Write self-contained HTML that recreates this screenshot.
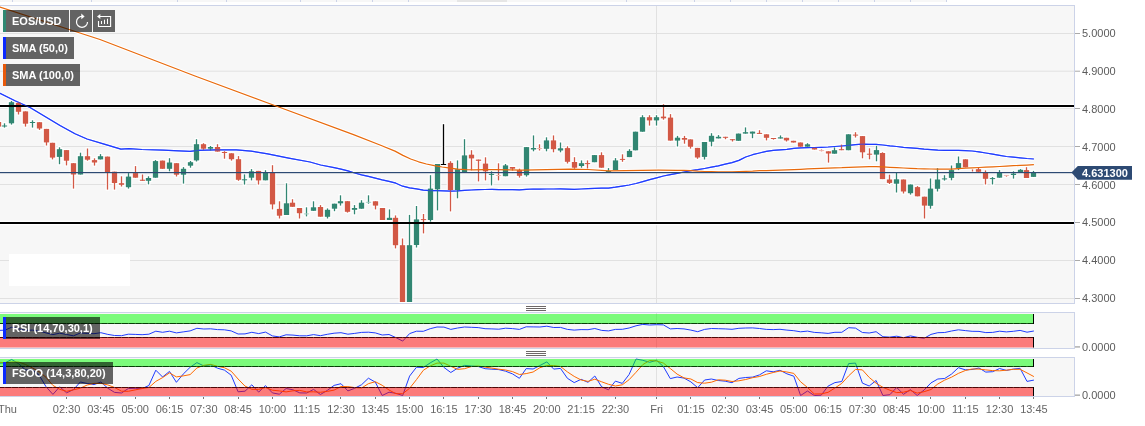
<!DOCTYPE html><html><head><meta charset="utf-8"><title>EOS/USD</title><style>html,body{margin:0;padding:0;background:#fff;overflow:hidden}body{width:1145px;height:426px;position:relative}</style></head><body><svg width="1145" height="426" viewBox="0 0 1145 426" style="position:absolute;left:0;top:0;font-family:'Liberation Sans',Arial,sans-serif">
<defs><clipPath id="cm"><rect x="0" y="6" width="1074" height="297"/></clipPath><clipPath id="cr"><rect x="0" y="313" width="1074" height="35"/></clipPath><clipPath id="cf"><rect x="0" y="358" width="1074" height="38"/></clipPath></defs>
<rect x="0" y="0" width="947" height="2" fill="#f7f7f7"/>
<rect x="12" y="0" width="1" height="2" fill="#ccd3e8"/>
<rect x="91" y="0" width="1" height="2" fill="#ccd3e8"/>
<rect x="177" y="0" width="1" height="2" fill="#ccd3e8"/>
<rect x="226" y="0" width="1" height="2" fill="#ccd3e8"/>
<rect x="300" y="0" width="1" height="2" fill="#ccd3e8"/>
<rect x="336" y="0" width="1" height="2" fill="#ccd3e8"/>
<rect x="372" y="0" width="1" height="2" fill="#ccd3e8"/>
<rect x="408" y="0" width="1" height="2" fill="#ccd3e8"/>
<rect x="626" y="0" width="1" height="2" fill="#ccd3e8"/>
<rect x="694" y="0" width="1" height="2" fill="#ccd3e8"/>
<rect x="730" y="0" width="1" height="2" fill="#ccd3e8"/>
<rect x="766" y="0" width="1" height="2" fill="#ccd3e8"/>
<rect x="802" y="0" width="1" height="2" fill="#ccd3e8"/>
<rect x="838" y="0" width="1" height="2" fill="#ccd3e8"/>
<rect x="874" y="0" width="1" height="2" fill="#ccd3e8"/>
<rect x="910" y="0" width="1" height="2" fill="#ccd3e8"/>
<rect x="946" y="0" width="1" height="2" fill="#ccd3e8"/>
<rect x="457" y="0" width="50" height="2" fill="#e6e6e6"/>
<rect x="0" y="6" width="1074" height="297" fill="#f7f7f7"/>
<rect x="0" y="33" width="1074" height="1" fill="#e1e1e1"/>
<rect x="0" y="70.7" width="1074" height="1" fill="#e1e1e1"/>
<rect x="0" y="108" width="1074" height="1" fill="#e1e1e1"/>
<rect x="0" y="146" width="1074" height="1" fill="#e1e1e1"/>
<rect x="0" y="184" width="1074" height="1" fill="#e1e1e1"/>
<rect x="0" y="222" width="1074" height="1" fill="#e1e1e1"/>
<rect x="0" y="260" width="1074" height="1" fill="#e1e1e1"/>
<rect x="0" y="298" width="1074" height="1" fill="#e1e1e1"/>
<rect x="656" y="6" width="1" height="297" fill="#e1e1e1"/>
<rect x="0" y="5" width="1075" height="1" fill="#ccd3e8"/>
<rect x="0" y="303" width="1075" height="1" fill="#ccd3e8"/>
<rect x="1074" y="5" width="1" height="299" fill="#ccd3e8"/>
<rect x="9" y="254" width="121" height="32" fill="#fff"/>
<g clip-path="url(#cm)">
<line x1="-3" y1="106.0" x2="1073.6" y2="106.0" stroke="#fff" stroke-width="4.6" stroke-linecap="round"/>
<line x1="-3" y1="222.95" x2="1073.6" y2="222.95" stroke="#fff" stroke-width="4.6" stroke-linecap="round"/>
<polyline points="-3.0,91.8 0.0,93.3 15.0,100.8 30.0,107.5 45.0,116.5 60.0,125.5 75.0,133.8 87.0,139.0 105.0,144.3 120.9,149.1 129.0,148.6 142.0,149.5 163.0,150.1 190.0,151.4 198.5,150.3 215.3,149.8 236.3,149.8 251.0,151.1 267.7,153.9 288.7,158.1 310.0,162.0 320.6,165.0 334.1,167.7 341.0,169.2 347.9,170.9 354.7,173.0 361.6,174.8 368.4,176.4 375.3,178.1 382.2,179.9 389.0,181.4 395.9,183.2 402.7,186.2 409.6,187.9 416.5,188.8 423.3,190.1 430.2,190.7 437.0,190.7 443.9,190.9 450.8,191.2 457.6,190.9 464.5,190.4 471.3,190.0 478.2,189.7 485.1,189.5 491.9,189.4 498.8,189.7 505.6,189.6 512.5,189.7 519.4,189.8 526.2,189.3 533.1,189.0 539.9,189.1 546.8,189.0 553.7,189.0 560.5,188.9 567.4,189.1 574.2,189.3 581.1,189.0 588.0,188.7 594.8,188.3 601.7,188.1 608.5,188.1 615.4,187.2 622.3,186.1 629.1,185.0 636.0,183.5 642.8,181.6 649.7,179.7 656.6,177.9 663.4,176.0 670.3,174.6 677.1,173.3 684.0,172.0 690.9,170.7 697.7,169.7 704.6,168.5 711.4,167.2 718.3,165.8 725.2,164.2 732.0,162.6 738.9,160.4 745.7,157.0 752.6,154.7 759.5,153.0 766.3,151.3 773.2,150.4 780.0,149.8 786.9,149.3 793.8,148.4 800.6,147.9 807.5,147.7 814.3,147.5 821.2,147.3 828.1,147.0 834.9,146.5 841.8,146.0 848.6,145.4 855.5,144.7 862.4,144.2 869.2,144.4 876.1,144.4 882.9,145.0 889.8,145.9 896.7,146.5 903.5,147.3 910.4,147.8 917.2,148.4 924.1,149.2 931.0,149.7 937.8,150.2 944.7,150.4 951.5,150.4 958.4,150.4 965.3,150.6 972.1,151.0 979.0,151.8 985.8,153.0 992.7,154.2 999.6,155.3 1006.4,156.5 1013.3,157.1 1020.1,157.8 1027.0,158.5 1033.9,159.0" fill="none" stroke="#fff" stroke-width="3.4" stroke-linejoin="round"/>
<polyline points="-3.0,6.0 0.0,7.0 100.0,39.5 195.0,76.0 276.0,106.0 353.5,134.6 380.0,145.0 395.0,151.1 402.9,155.4 410.7,159.0 418.6,161.8 426.4,164.0 434.3,165.6 442.2,167.0 450.0,168.2 457.9,169.1 465.8,169.7 473.6,169.8 485.0,169.6 494.5,169.6 523.0,170.2 570.0,169.2 588.0,169.5 609.0,170.9 658.6,170.2 677.1,170.3 684.0,170.4 690.9,170.7 697.7,171.2 704.6,171.5 711.4,171.6 718.3,171.8 725.2,171.9 732.0,171.9 738.9,171.6 745.7,171.4 752.6,171.2 759.5,170.7 766.3,170.6 773.2,170.4 780.0,170.1 786.9,169.9 793.8,169.6 800.6,169.3 807.5,168.9 814.3,168.6 821.2,168.3 828.1,168.1 834.9,167.8 841.8,167.7 848.6,167.3 855.5,167.1 862.4,166.8 869.2,166.7 876.1,166.6 882.9,166.9 889.8,167.3 896.7,167.6 903.5,168.0 910.4,168.3 917.2,168.7 924.1,168.9 931.0,169.0 937.8,169.1 944.7,169.1 951.5,169.1 958.4,168.7 965.3,168.2 972.1,167.9 979.0,167.5 985.8,167.2 992.7,166.8 999.6,166.5 1006.4,166.1 1013.3,165.7 1020.1,165.4 1027.0,165.1 1033.9,164.7" fill="none" stroke="#fff" stroke-width="3.4" stroke-linejoin="round"/>
<path fill="#fff" d="M-3.35 120.8h3.70v7.0h-3.70zM-5.35 120.8h7.70v7.0h-7.70zM2.65 122.1h3.70v6.7h-3.70zM0.65 124.3h7.70v3.4h-7.70zM9.65 99.8h3.70v26.0h-3.70zM7.65 101.0h7.70v23.5h-7.70zM16.65 100.8h3.70v14.9h-3.70zM14.65 101.7h7.70v11.3h-7.70zM23.65 110.2h3.70v17.6h-3.70zM21.65 110.2h7.70v14.7h-7.70zM30.65 119.1h3.70v9.7h-3.70zM28.65 120.8h7.70v3.4h-7.70zM37.65 121.0h3.70v10.1h-3.70zM35.65 121.0h7.70v8.7h-7.70zM44.65 127.7h3.70v19.0h-3.70zM42.65 127.7h7.70v15.9h-7.70zM50.65 141.6h3.70v19.0h-3.70zM48.65 141.6h7.70v17.2h-7.70zM57.65 146.1h3.70v19.3h-3.70zM55.65 148.0h7.70v10.1h-7.70zM64.65 148.9h3.70v17.7h-3.70zM62.65 148.9h7.70v13.0h-7.70zM71.65 162.0h3.70v27.8h-3.70zM69.65 162.0h7.70v13.7h-7.70zM78.65 151.5h3.70v24.2h-3.70zM76.65 155.0h7.70v20.7h-7.70zM85.65 147.3h3.70v14.6h-3.70zM83.65 155.0h7.70v5.9h-7.70zM92.65 157.1h3.70v9.7h-3.70zM90.65 158.9h7.70v4.8h-7.70zM98.65 152.9h3.70v7.7h-3.70zM96.65 155.0h7.70v5.6h-7.70zM105.65 155.4h3.70v35.4h-3.70zM103.65 155.4h7.70v17.9h-7.70zM112.65 170.5h3.70v20.3h-3.70zM110.65 170.5h7.70v13.7h-7.70zM119.65 175.1h3.70v12.6h-3.70zM117.65 182.0h7.70v4.0h-7.70zM126.65 171.9h3.70v17.9h-3.70zM124.65 175.4h7.70v13.0h-7.70zM133.65 164.9h3.70v14.0h-3.70zM131.65 171.9h7.70v7.0h-7.70zM140.65 173.3h3.70v8.7h-3.70zM138.65 178.5h7.70v3.5h-7.70zM146.65 175.1h3.70v10.5h-3.70zM144.65 176.8h7.70v5.2h-7.70zM153.65 158.9h3.70v20.0h-3.70zM151.65 159.9h7.70v19.0h-7.70zM160.65 159.4h3.70v10.6h-3.70zM158.65 159.4h7.70v10.6h-7.70zM167.65 157.0h3.70v15.5h-3.70zM165.65 161.3h7.70v8.7h-7.70zM174.65 162.0h3.70v15.7h-3.70zM172.65 162.0h7.70v13.9h-7.70zM181.65 165.9h3.70v18.9h-3.70zM179.65 167.6h7.70v8.3h-7.70zM188.65 159.8h3.70v9.1h-3.70zM186.65 161.0h7.70v5.9h-7.70zM194.65 138.0h3.70v24.7h-3.70zM192.65 143.0h7.70v18.6h-7.70zM201.65 142.0h3.70v9.0h-3.70zM199.65 143.0h7.70v6.9h-7.70zM208.65 144.8h3.70v6.9h-3.70zM206.65 145.8h7.70v4.1h-7.70zM215.65 143.0h3.70v9.8h-3.70zM213.65 145.8h7.70v7.0h-7.70zM222.65 150.0h3.70v9.9h-3.70zM220.65 150.8h7.70v3.4h-7.70zM229.65 152.1h3.70v9.7h-3.70zM227.65 152.1h7.70v8.3h-7.70zM236.65 154.9h3.70v27.1h-3.70zM234.65 158.0h7.70v23.0h-7.70zM242.65 173.2h3.70v12.6h-3.70zM240.65 178.1h7.70v3.4h-7.70zM249.65 167.9h3.70v13.7h-3.70zM247.65 170.1h7.70v8.8h-7.70zM256.65 169.7h3.70v16.1h-3.70zM254.65 169.7h7.70v11.9h-7.70zM263.65 169.0h3.70v12.5h-3.70zM261.65 171.1h7.70v10.4h-7.70zM270.65 164.0h3.70v46.6h-3.70zM268.65 171.3h7.70v34.3h-7.70zM277.65 200.1h3.70v19.6h-3.70zM275.65 207.7h7.70v9.2h-7.70zM284.65 182.1h3.70v34.1h-3.70zM282.65 202.1h7.70v14.1h-7.70zM290.65 198.0h3.70v10.0h-3.70zM288.65 201.5h7.70v6.5h-7.70zM297.65 206.8h3.70v12.9h-3.70zM295.65 206.8h7.70v7.6h-7.70zM304.65 206.1h3.70v11.5h-3.70zM302.65 212.2h7.70v3.4h-7.70zM311.65 200.1h3.70v11.9h-3.70zM309.65 206.1h7.70v5.9h-7.70zM318.65 203.9h3.70v14.0h-3.70zM316.65 205.8h7.70v12.1h-7.70zM325.65 207.2h3.70v12.5h-3.70zM323.65 208.6h7.70v9.4h-7.70zM332.65 202.5h3.70v9.9h-3.70zM330.65 202.5h7.70v7.4h-7.70zM338.65 194.1h3.70v12.7h-3.70zM336.65 200.0h7.70v4.5h-7.70zM345.65 200.0h3.70v13.8h-3.70zM343.65 200.0h7.70v13.0h-7.70zM352.65 203.9h3.70v11.6h-3.70zM350.65 206.8h7.70v4.2h-7.70zM359.65 199.0h3.70v10.9h-3.70zM357.65 201.5h7.70v8.4h-7.70zM366.65 194.1h3.70v10.8h-3.70zM364.65 200.6h7.70v3.4h-7.70zM373.65 200.1h3.70v10.5h-3.70zM371.65 200.1h7.70v6.7h-7.70zM380.65 206.8h3.70v14.4h-3.70zM378.65 206.8h7.70v14.4h-7.70zM387.65 208.2h3.70v13.0h-3.70zM385.65 216.6h7.70v4.6h-7.70zM393.65 214.2h3.70v35.4h-3.70zM391.65 216.6h7.70v29.8h-7.70zM400.65 237.3h3.70v65.9h-3.70zM398.65 244.0h7.70v59.2h-7.70zM407.65 213.7h3.70v89.5h-3.70zM405.65 244.0h7.70v59.2h-7.70zM414.65 204.8h3.70v43.9h-3.70zM412.65 218.2h7.70v28.0h-7.70zM421.65 212.8h3.70v21.8h-3.70zM419.65 217.9h7.70v3.4h-7.70zM428.65 174.0h3.70v48.8h-3.70zM426.65 187.4h7.70v33.8h-7.70zM435.65 162.8h3.70v48.8h-3.70zM433.65 162.8h7.70v27.7h-7.70zM441.65 123.0h3.70v43.2h-3.70zM439.65 162.8h7.70v3.4h-7.70zM448.65 160.0h3.70v52.6h-3.70zM446.65 161.7h7.70v29.5h-7.70zM455.65 159.2h3.70v40.3h-3.70zM453.65 168.0h7.70v23.2h-7.70zM462.65 138.0h3.70v35.2h-3.70zM460.65 154.2h7.70v19.0h-7.70zM469.65 149.0h3.70v22.6h-3.70zM467.65 153.5h7.70v6.1h-7.70zM476.65 158.4h3.70v24.2h-3.70zM474.65 158.4h7.70v3.6h-7.70zM483.65 156.1h3.70v25.5h-3.70zM481.65 162.4h7.70v10.1h-7.70zM489.65 170.1h3.70v16.5h-3.70zM487.65 172.7h7.70v3.4h-7.70zM496.65 162.1h3.70v19.5h-3.70zM494.65 173.8h7.70v3.4h-7.70zM503.65 162.8h3.70v14.6h-3.70zM501.65 164.2h7.70v13.2h-7.70zM510.65 165.8h3.70v6.0h-3.70zM508.65 165.8h7.70v4.1h-7.70zM517.65 167.5h3.70v11.3h-3.70zM515.65 168.9h7.70v8.1h-7.70zM524.65 145.9h3.70v31.9h-3.70zM522.65 145.9h7.70v30.5h-7.70zM531.65 134.2h3.70v18.3h-3.70zM529.65 146.8h7.70v3.9h-7.70zM537.65 143.1h3.70v8.6h-3.70zM535.65 146.8h7.70v3.4h-7.70zM544.65 136.1h3.70v16.4h-3.70zM542.65 139.2h7.70v10.8h-7.70zM551.65 134.2h3.70v19.3h-3.70zM549.65 139.2h7.70v11.2h-7.70zM558.65 141.3h3.70v12.2h-3.70zM556.65 147.1h7.70v4.6h-7.70zM565.65 145.0h3.70v19.7h-3.70zM563.65 146.9h7.70v16.1h-7.70zM572.65 156.0h3.70v14.0h-3.70zM570.65 160.8h7.70v8.1h-7.70zM579.65 159.2h3.70v9.7h-3.70zM577.65 162.0h7.70v5.2h-7.70zM585.65 159.2h3.70v10.5h-3.70zM583.65 161.9h7.70v3.4h-7.70zM592.65 153.9h3.70v9.5h-3.70zM590.65 153.9h7.70v9.5h-7.70zM599.65 151.1h3.70v17.8h-3.70zM597.65 153.9h7.70v15.0h-7.70zM606.65 166.9h3.70v6.2h-3.70zM604.65 169.8h7.70v3.4h-7.70zM613.65 156.9h3.70v14.3h-3.70zM611.65 159.2h7.70v12.0h-7.70zM620.65 153.1h3.70v9.9h-3.70zM618.65 157.7h7.70v3.4h-7.70zM627.65 148.0h3.70v10.3h-3.70zM625.65 149.7h7.70v8.6h-7.70zM633.65 130.5h3.70v21.0h-3.70zM631.65 130.5h7.70v21.0h-7.70zM640.65 114.0h3.70v18.9h-3.70zM638.65 116.0h7.70v16.9h-7.70zM647.65 114.0h3.70v12.8h-3.70zM645.65 116.0h7.70v5.6h-7.70zM654.65 114.0h3.70v12.8h-3.70zM652.65 116.0h7.70v5.6h-7.70zM661.65 103.0h3.70v17.9h-3.70zM659.65 115.4h7.70v4.1h-7.70zM668.65 112.9h3.70v28.9h-3.70zM666.65 116.4h7.70v25.4h-7.70zM675.65 134.7h3.70v13.0h-3.70zM673.65 136.5h7.70v5.3h-7.70zM682.65 134.7h3.70v10.2h-3.70zM680.65 136.8h7.70v4.1h-7.70zM688.65 138.2h3.70v11.6h-3.70zM686.65 138.2h7.70v9.8h-7.70zM695.65 146.7h3.70v13.3h-3.70zM693.65 146.7h7.70v12.0h-7.70zM702.65 140.8h3.70v19.9h-3.70zM700.65 140.8h7.70v17.3h-7.70zM709.65 132.0h3.70v15.6h-3.70zM707.65 134.6h7.70v8.3h-7.70zM716.65 133.9h3.70v5.7h-3.70zM714.65 135.6h7.70v4.0h-7.70zM723.65 135.6h3.70v4.8h-3.70zM721.65 135.6h7.70v3.4h-7.70zM730.65 138.0h3.70v4.7h-3.70zM728.65 138.0h7.70v3.4h-7.70zM736.65 132.4h3.70v9.6h-3.70zM734.65 132.4h7.70v9.6h-7.70zM743.65 126.2h3.70v8.6h-3.70zM741.65 131.0h7.70v3.8h-7.70zM750.65 130.4h3.70v9.0h-3.70zM748.65 130.4h7.70v4.4h-7.70zM757.65 129.0h3.70v6.1h-3.70zM755.65 131.7h7.70v3.4h-7.70zM764.65 133.1h3.70v8.5h-3.70zM762.65 133.1h7.70v5.9h-7.70zM771.65 136.8h3.70v4.0h-3.70zM769.65 136.8h7.70v3.4h-7.70zM778.65 134.2h3.70v5.5h-3.70zM776.65 136.1h7.70v3.6h-7.70zM784.65 136.6h3.70v6.1h-3.70zM782.65 136.6h7.70v5.0h-7.70zM791.65 139.6h3.70v4.1h-3.70zM789.65 139.6h7.70v4.1h-7.70zM798.65 141.3h3.70v6.6h-3.70zM796.65 141.3h7.70v6.6h-7.70zM805.65 142.0h3.70v5.9h-3.70zM803.65 143.1h7.70v4.8h-7.70zM812.65 146.5h3.70v4.2h-3.70zM810.65 146.5h7.70v4.2h-7.70zM819.65 148.3h3.70v4.2h-3.70zM817.65 148.9h7.70v3.4h-7.70zM826.65 150.1h3.70v13.7h-3.70zM824.65 150.1h7.70v4.6h-7.70zM832.65 146.2h3.70v8.7h-3.70zM830.65 149.0h7.70v5.9h-7.70zM839.65 143.4h3.70v8.0h-3.70zM837.65 148.0h7.70v3.4h-7.70zM846.65 133.1h3.70v18.3h-3.70zM844.65 133.1h7.70v18.3h-7.70zM853.65 131.0h3.70v7.7h-3.70zM851.65 133.4h7.70v3.4h-7.70zM860.65 134.9h3.70v24.6h-3.70zM858.65 134.9h7.70v18.6h-7.70zM867.65 147.1h3.70v13.4h-3.70zM865.65 152.5h7.70v3.4h-7.70zM874.65 144.6h3.70v17.9h-3.70zM872.65 148.9h7.70v6.9h-7.70zM880.65 151.1h3.70v29.2h-3.70zM878.65 151.8h7.70v28.5h-7.70zM887.65 173.5h3.70v11.7h-3.70zM885.65 178.3h7.70v5.8h-7.70zM894.65 171.6h3.70v22.1h-3.70zM892.65 178.1h7.70v6.8h-7.70zM901.65 178.3h3.70v16.4h-3.70zM899.65 178.3h7.70v14.4h-7.70zM908.65 183.3h3.70v12.5h-3.70zM906.65 183.3h7.70v11.1h-7.70zM915.65 184.9h3.70v12.6h-3.70zM913.65 185.9h7.70v11.6h-7.70zM922.65 195.5h3.70v24.2h-3.70zM920.65 195.5h7.70v11.3h-7.70zM928.65 177.3h3.70v32.6h-3.70zM926.65 187.4h7.70v19.6h-7.70zM935.65 167.0h3.70v25.7h-3.70zM933.65 178.3h7.70v11.7h-7.70zM942.65 174.0h3.70v7.8h-3.70zM940.65 177.2h7.70v3.4h-7.70zM949.65 164.3h3.70v17.2h-3.70zM947.65 168.9h7.70v10.2h-7.70zM956.65 155.3h3.70v16.0h-3.70zM954.65 161.9h7.70v7.6h-7.70zM963.65 158.1h3.70v10.4h-3.70zM961.65 158.1h7.70v10.4h-7.70zM970.65 168.2h3.70v4.5h-3.70zM976.65 166.5h3.70v6.5h-3.70zM974.65 168.0h7.70v5.0h-7.70zM983.65 169.2h3.70v16.5h-3.70zM981.65 171.5h7.70v8.5h-7.70zM990.65 175.9h3.70v9.8h-3.70zM988.65 176.9h7.70v3.4h-7.70zM997.65 168.9h3.70v10.0h-3.70zM995.65 171.5h7.70v7.4h-7.70zM1004.65 173.8h3.70v4.0h-3.70zM1002.65 173.7h7.70v3.4h-7.70zM1011.65 170.1h3.70v9.7h-3.70zM1009.65 172.4h7.70v3.8h-7.70zM1018.65 167.9h3.70v5.5h-3.70zM1016.65 168.6h7.70v4.8h-7.70zM1024.65 166.0h3.70v13.2h-3.70zM1022.65 168.9h7.70v10.3h-7.70zM1031.65 169.7h3.70v8.4h-3.70zM1029.65 171.5h7.70v6.6h-7.70z"/>
<polyline points="-3.0,91.8 0.0,93.3 15.0,100.8 30.0,107.5 45.0,116.5 60.0,125.5 75.0,133.8 87.0,139.0 105.0,144.3 120.9,149.1 129.0,148.6 142.0,149.5 163.0,150.1 190.0,151.4 198.5,150.3 215.3,149.8 236.3,149.8 251.0,151.1 267.7,153.9 288.7,158.1 310.0,162.0 320.6,165.0 334.1,167.7 341.0,169.2 347.9,170.9 354.7,173.0 361.6,174.8 368.4,176.4 375.3,178.1 382.2,179.9 389.0,181.4 395.9,183.2 402.7,186.2 409.6,187.9 416.5,188.8 423.3,190.1 430.2,190.7 437.0,190.7 443.9,190.9 450.8,191.2 457.6,190.9 464.5,190.4 471.3,190.0 478.2,189.7 485.1,189.5 491.9,189.4 498.8,189.7 505.6,189.6 512.5,189.7 519.4,189.8 526.2,189.3 533.1,189.0 539.9,189.1 546.8,189.0 553.7,189.0 560.5,188.9 567.4,189.1 574.2,189.3 581.1,189.0 588.0,188.7 594.8,188.3 601.7,188.1 608.5,188.1 615.4,187.2 622.3,186.1 629.1,185.0 636.0,183.5 642.8,181.6 649.7,179.7 656.6,177.9 663.4,176.0 670.3,174.6 677.1,173.3 684.0,172.0 690.9,170.7 697.7,169.7 704.6,168.5 711.4,167.2 718.3,165.8 725.2,164.2 732.0,162.6 738.9,160.4 745.7,157.0 752.6,154.7 759.5,153.0 766.3,151.3 773.2,150.4 780.0,149.8 786.9,149.3 793.8,148.4 800.6,147.9 807.5,147.7 814.3,147.5 821.2,147.3 828.1,147.0 834.9,146.5 841.8,146.0 848.6,145.4 855.5,144.7 862.4,144.2 869.2,144.4 876.1,144.4 882.9,145.0 889.8,145.9 896.7,146.5 903.5,147.3 910.4,147.8 917.2,148.4 924.1,149.2 931.0,149.7 937.8,150.2 944.7,150.4 951.5,150.4 958.4,150.4 965.3,150.6 972.1,151.0 979.0,151.8 985.8,153.0 992.7,154.2 999.6,155.3 1006.4,156.5 1013.3,157.1 1020.1,157.8 1027.0,158.5 1033.9,159.0" fill="none" stroke="#1f3cff" stroke-width="1.2" stroke-linejoin="round"/>
<rect x="-2.15" y="122.0" width="1.3" height="4.6" fill="#d25845"/>
<rect x="-4.15" y="122.0" width="5.3" height="4.6" fill="#d25845"/>
<rect x="3.85" y="123.3" width="1.3" height="4.3" fill="#318672"/>
<rect x="1.85" y="125.5" width="5.3" height="1.0" fill="#318672"/>
<rect x="10.85" y="101.0" width="1.3" height="23.6" fill="#318672"/>
<rect x="8.85" y="102.2" width="5.3" height="21.1" fill="#318672"/>
<rect x="17.85" y="102.0" width="1.3" height="12.5" fill="#d25845"/>
<rect x="15.85" y="102.9" width="5.3" height="8.9" fill="#d25845"/>
<rect x="24.85" y="111.4" width="1.3" height="15.2" fill="#d25845"/>
<rect x="22.85" y="111.4" width="5.3" height="12.3" fill="#d25845"/>
<rect x="31.85" y="120.3" width="1.3" height="7.3" fill="#318672"/>
<rect x="29.85" y="122.0" width="5.3" height="1.0" fill="#318672"/>
<rect x="38.85" y="122.2" width="1.3" height="7.7" fill="#d25845"/>
<rect x="36.85" y="122.2" width="5.3" height="6.3" fill="#d25845"/>
<rect x="45.85" y="128.9" width="1.3" height="16.6" fill="#d25845"/>
<rect x="43.85" y="128.9" width="5.3" height="13.5" fill="#d25845"/>
<rect x="51.85" y="142.8" width="1.3" height="16.6" fill="#d25845"/>
<rect x="49.85" y="142.8" width="5.3" height="14.8" fill="#d25845"/>
<rect x="58.85" y="147.3" width="1.3" height="16.9" fill="#318672"/>
<rect x="56.85" y="149.2" width="5.3" height="7.7" fill="#318672"/>
<rect x="65.85" y="150.1" width="1.3" height="15.3" fill="#d25845"/>
<rect x="63.85" y="150.1" width="5.3" height="10.6" fill="#d25845"/>
<rect x="72.85" y="163.2" width="1.3" height="25.4" fill="#d25845"/>
<rect x="70.85" y="163.2" width="5.3" height="11.3" fill="#d25845"/>
<rect x="79.85" y="152.7" width="1.3" height="21.8" fill="#318672"/>
<rect x="77.85" y="156.2" width="5.3" height="18.3" fill="#318672"/>
<rect x="86.85" y="148.5" width="1.3" height="12.2" fill="#d25845"/>
<rect x="84.85" y="156.2" width="5.3" height="3.5" fill="#d25845"/>
<rect x="93.85" y="158.3" width="1.3" height="7.3" fill="#d25845"/>
<rect x="91.85" y="160.1" width="5.3" height="2.4" fill="#d25845"/>
<rect x="99.85" y="154.1" width="1.3" height="5.3" fill="#318672"/>
<rect x="97.85" y="156.2" width="5.3" height="3.2" fill="#318672"/>
<rect x="106.85" y="156.6" width="1.3" height="33.0" fill="#d25845"/>
<rect x="104.85" y="156.6" width="5.3" height="15.5" fill="#d25845"/>
<rect x="113.85" y="171.7" width="1.3" height="17.9" fill="#d25845"/>
<rect x="111.85" y="171.7" width="5.3" height="11.3" fill="#d25845"/>
<rect x="120.85" y="176.3" width="1.3" height="10.2" fill="#d25845"/>
<rect x="118.85" y="183.2" width="5.3" height="1.6" fill="#d25845"/>
<rect x="127.85" y="173.1" width="1.3" height="15.5" fill="#318672"/>
<rect x="125.85" y="176.6" width="5.3" height="10.6" fill="#318672"/>
<rect x="134.85" y="166.1" width="1.3" height="11.6" fill="#d25845"/>
<rect x="132.85" y="173.1" width="5.3" height="4.6" fill="#d25845"/>
<rect x="141.85" y="174.5" width="1.3" height="6.3" fill="#d25845"/>
<rect x="139.85" y="179.7" width="5.3" height="1.1" fill="#d25845"/>
<rect x="147.85" y="176.3" width="1.3" height="8.1" fill="#318672"/>
<rect x="145.85" y="178.0" width="5.3" height="2.8" fill="#318672"/>
<rect x="154.85" y="160.1" width="1.3" height="17.6" fill="#318672"/>
<rect x="152.85" y="161.1" width="5.3" height="16.6" fill="#318672"/>
<rect x="161.85" y="160.6" width="1.3" height="8.2" fill="#d25845"/>
<rect x="159.85" y="160.6" width="5.3" height="8.2" fill="#d25845"/>
<rect x="168.85" y="158.2" width="1.3" height="13.1" fill="#318672"/>
<rect x="166.85" y="162.5" width="5.3" height="6.3" fill="#318672"/>
<rect x="175.85" y="163.2" width="1.3" height="13.3" fill="#d25845"/>
<rect x="173.85" y="163.2" width="5.3" height="11.5" fill="#d25845"/>
<rect x="182.85" y="167.1" width="1.3" height="16.5" fill="#318672"/>
<rect x="180.85" y="168.8" width="5.3" height="5.9" fill="#318672"/>
<rect x="189.85" y="161.0" width="1.3" height="6.7" fill="#318672"/>
<rect x="187.85" y="162.2" width="5.3" height="3.5" fill="#318672"/>
<rect x="195.85" y="139.2" width="1.3" height="22.3" fill="#318672"/>
<rect x="193.85" y="144.2" width="5.3" height="16.2" fill="#318672"/>
<rect x="202.85" y="143.2" width="1.3" height="6.6" fill="#d25845"/>
<rect x="200.85" y="144.2" width="5.3" height="4.5" fill="#d25845"/>
<rect x="209.85" y="146.0" width="1.3" height="4.5" fill="#318672"/>
<rect x="207.85" y="147.0" width="5.3" height="1.7" fill="#318672"/>
<rect x="216.85" y="144.2" width="1.3" height="7.4" fill="#d25845"/>
<rect x="214.85" y="147.0" width="5.3" height="4.6" fill="#d25845"/>
<rect x="223.85" y="151.2" width="1.3" height="7.5" fill="#d25845"/>
<rect x="221.85" y="152.0" width="5.3" height="1.0" fill="#d25845"/>
<rect x="230.85" y="153.3" width="1.3" height="7.3" fill="#d25845"/>
<rect x="228.85" y="153.3" width="5.3" height="5.9" fill="#d25845"/>
<rect x="237.85" y="156.1" width="1.3" height="24.7" fill="#d25845"/>
<rect x="235.85" y="159.2" width="5.3" height="20.6" fill="#d25845"/>
<rect x="243.85" y="174.4" width="1.3" height="10.2" fill="#318672"/>
<rect x="241.85" y="179.3" width="5.3" height="1.0" fill="#318672"/>
<rect x="250.85" y="169.1" width="1.3" height="11.3" fill="#318672"/>
<rect x="248.85" y="171.3" width="5.3" height="6.4" fill="#318672"/>
<rect x="257.85" y="170.9" width="1.3" height="13.7" fill="#d25845"/>
<rect x="255.85" y="170.9" width="5.3" height="9.5" fill="#d25845"/>
<rect x="264.85" y="170.2" width="1.3" height="10.1" fill="#318672"/>
<rect x="262.85" y="172.3" width="5.3" height="8.0" fill="#318672"/>
<rect x="271.85" y="165.2" width="1.3" height="44.2" fill="#d25845"/>
<rect x="269.85" y="172.5" width="5.3" height="31.9" fill="#d25845"/>
<rect x="278.85" y="201.3" width="1.3" height="17.2" fill="#d25845"/>
<rect x="276.85" y="208.9" width="5.3" height="6.8" fill="#d25845"/>
<rect x="285.85" y="183.3" width="1.3" height="31.7" fill="#318672"/>
<rect x="283.85" y="203.3" width="5.3" height="11.7" fill="#318672"/>
<rect x="291.85" y="199.2" width="1.3" height="7.6" fill="#d25845"/>
<rect x="289.85" y="202.7" width="5.3" height="4.1" fill="#d25845"/>
<rect x="298.85" y="208.0" width="1.3" height="10.5" fill="#d25845"/>
<rect x="296.85" y="208.0" width="5.3" height="5.2" fill="#d25845"/>
<rect x="305.85" y="207.3" width="1.3" height="9.1" fill="#318672"/>
<rect x="303.85" y="213.4" width="5.3" height="1.0" fill="#a9cfc5"/>
<rect x="312.85" y="201.3" width="1.3" height="9.5" fill="#318672"/>
<rect x="310.85" y="207.3" width="5.3" height="3.5" fill="#318672"/>
<rect x="319.85" y="205.1" width="1.3" height="11.6" fill="#d25845"/>
<rect x="317.85" y="207.0" width="5.3" height="9.7" fill="#d25845"/>
<rect x="326.85" y="208.4" width="1.3" height="10.1" fill="#318672"/>
<rect x="324.85" y="209.8" width="5.3" height="7.0" fill="#318672"/>
<rect x="333.85" y="203.7" width="1.3" height="7.5" fill="#318672"/>
<rect x="331.85" y="203.7" width="5.3" height="5.0" fill="#318672"/>
<rect x="339.85" y="195.3" width="1.3" height="10.3" fill="#318672"/>
<rect x="337.85" y="201.2" width="5.3" height="2.1" fill="#318672"/>
<rect x="346.85" y="201.2" width="1.3" height="11.4" fill="#d25845"/>
<rect x="344.85" y="201.2" width="5.3" height="10.6" fill="#d25845"/>
<rect x="353.85" y="205.1" width="1.3" height="9.2" fill="#318672"/>
<rect x="351.85" y="208.0" width="5.3" height="1.8" fill="#318672"/>
<rect x="360.85" y="200.2" width="1.3" height="8.5" fill="#318672"/>
<rect x="358.85" y="202.7" width="5.3" height="6.0" fill="#318672"/>
<rect x="367.85" y="195.3" width="1.3" height="8.4" fill="#318672"/>
<rect x="365.85" y="201.8" width="5.3" height="1.0" fill="#a9cfc5"/>
<rect x="374.85" y="201.3" width="1.3" height="8.1" fill="#d25845"/>
<rect x="372.85" y="201.3" width="5.3" height="4.3" fill="#d25845"/>
<rect x="381.85" y="208.0" width="1.3" height="12.0" fill="#d25845"/>
<rect x="379.85" y="208.0" width="5.3" height="12.0" fill="#d25845"/>
<rect x="388.85" y="209.4" width="1.3" height="10.6" fill="#318672"/>
<rect x="386.85" y="217.8" width="5.3" height="2.2" fill="#318672"/>
<rect x="394.85" y="215.4" width="1.3" height="33.0" fill="#d25845"/>
<rect x="392.85" y="217.8" width="5.3" height="27.4" fill="#d25845"/>
<rect x="401.85" y="238.5" width="1.3" height="63.5" fill="#d25845"/>
<rect x="399.85" y="245.2" width="5.3" height="56.8" fill="#d25845"/>
<rect x="408.85" y="214.9" width="1.3" height="87.1" fill="#318672"/>
<rect x="406.85" y="245.2" width="5.3" height="56.8" fill="#318672"/>
<rect x="415.85" y="206.0" width="1.3" height="41.5" fill="#318672"/>
<rect x="413.85" y="219.4" width="5.3" height="25.6" fill="#318672"/>
<rect x="422.85" y="214.0" width="1.3" height="19.4" fill="#d25845"/>
<rect x="420.85" y="219.1" width="5.3" height="1.0" fill="#d25845"/>
<rect x="429.85" y="175.2" width="1.3" height="46.4" fill="#318672"/>
<rect x="427.85" y="188.6" width="5.3" height="31.4" fill="#318672"/>
<rect x="436.85" y="164.0" width="1.3" height="46.4" fill="#318672"/>
<rect x="434.85" y="164.0" width="5.3" height="25.3" fill="#318672"/>
<rect x="442.85" y="124.2" width="1.3" height="40.8" fill="#000"/>
<rect x="440.85" y="164.0" width="5.3" height="1.0" fill="#000"/>
<rect x="449.85" y="161.2" width="1.3" height="50.2" fill="#d25845"/>
<rect x="447.85" y="162.9" width="5.3" height="27.1" fill="#d25845"/>
<rect x="456.85" y="160.4" width="1.3" height="37.9" fill="#318672"/>
<rect x="454.85" y="169.2" width="5.3" height="20.8" fill="#318672"/>
<rect x="463.85" y="139.2" width="1.3" height="32.8" fill="#318672"/>
<rect x="461.85" y="155.4" width="5.3" height="16.6" fill="#318672"/>
<rect x="470.85" y="150.2" width="1.3" height="20.2" fill="#d25845"/>
<rect x="468.85" y="154.7" width="5.3" height="3.7" fill="#d25845"/>
<rect x="477.85" y="159.6" width="1.3" height="21.8" fill="#d25845"/>
<rect x="475.85" y="159.6" width="5.3" height="1.2" fill="#d25845"/>
<rect x="484.85" y="157.3" width="1.3" height="23.1" fill="#d25845"/>
<rect x="482.85" y="163.6" width="5.3" height="7.7" fill="#d25845"/>
<rect x="490.85" y="171.3" width="1.3" height="14.1" fill="#318672"/>
<rect x="488.85" y="173.9" width="5.3" height="1.0" fill="#318672"/>
<rect x="497.85" y="163.3" width="1.3" height="17.1" fill="#d25845"/>
<rect x="495.85" y="175.0" width="5.3" height="1.0" fill="#f0b9b0"/>
<rect x="504.85" y="164.0" width="1.3" height="12.2" fill="#318672"/>
<rect x="502.85" y="165.4" width="5.3" height="10.8" fill="#318672"/>
<rect x="511.85" y="167.0" width="1.3" height="3.6" fill="#d25845"/>
<rect x="509.85" y="167.0" width="5.3" height="1.7" fill="#d25845"/>
<rect x="518.85" y="168.7" width="1.3" height="8.9" fill="#d25845"/>
<rect x="516.85" y="170.1" width="5.3" height="5.7" fill="#d25845"/>
<rect x="525.85" y="147.1" width="1.3" height="29.5" fill="#318672"/>
<rect x="523.85" y="147.1" width="5.3" height="28.1" fill="#318672"/>
<rect x="532.85" y="135.4" width="1.3" height="15.9" fill="#318672"/>
<rect x="530.85" y="148.0" width="5.3" height="1.5" fill="#318672"/>
<rect x="538.85" y="144.3" width="1.3" height="6.2" fill="#d25845"/>
<rect x="536.85" y="148.0" width="5.3" height="1.0" fill="#f0b9b0"/>
<rect x="545.85" y="137.3" width="1.3" height="14.0" fill="#318672"/>
<rect x="543.85" y="140.4" width="5.3" height="8.4" fill="#318672"/>
<rect x="552.85" y="135.4" width="1.3" height="16.9" fill="#d25845"/>
<rect x="550.85" y="140.4" width="5.3" height="8.8" fill="#d25845"/>
<rect x="559.85" y="142.5" width="1.3" height="9.8" fill="#318672"/>
<rect x="557.85" y="148.3" width="5.3" height="2.2" fill="#318672"/>
<rect x="566.85" y="146.2" width="1.3" height="17.3" fill="#d25845"/>
<rect x="564.85" y="148.1" width="5.3" height="13.7" fill="#d25845"/>
<rect x="573.85" y="157.2" width="1.3" height="11.6" fill="#d25845"/>
<rect x="571.85" y="162.0" width="5.3" height="5.7" fill="#d25845"/>
<rect x="580.85" y="160.4" width="1.3" height="7.3" fill="#318672"/>
<rect x="578.85" y="163.2" width="5.3" height="2.8" fill="#318672"/>
<rect x="586.85" y="160.4" width="1.3" height="8.1" fill="#d25845"/>
<rect x="584.85" y="163.1" width="5.3" height="1.0" fill="#d25845"/>
<rect x="593.85" y="155.1" width="1.3" height="7.1" fill="#318672"/>
<rect x="591.85" y="155.1" width="5.3" height="7.1" fill="#318672"/>
<rect x="600.85" y="152.3" width="1.3" height="15.4" fill="#d25845"/>
<rect x="598.85" y="155.1" width="5.3" height="12.6" fill="#d25845"/>
<rect x="607.85" y="168.1" width="1.3" height="3.8" fill="#318672"/>
<rect x="605.85" y="171.0" width="5.3" height="1.0" fill="#318672"/>
<rect x="614.85" y="158.1" width="1.3" height="11.9" fill="#318672"/>
<rect x="612.85" y="160.4" width="5.3" height="9.6" fill="#318672"/>
<rect x="621.85" y="154.3" width="1.3" height="7.5" fill="#d25845"/>
<rect x="619.85" y="158.9" width="5.3" height="1.0" fill="#d25845"/>
<rect x="628.85" y="149.2" width="1.3" height="7.9" fill="#318672"/>
<rect x="626.85" y="150.9" width="5.3" height="6.2" fill="#318672"/>
<rect x="634.85" y="131.7" width="1.3" height="18.6" fill="#318672"/>
<rect x="632.85" y="131.7" width="5.3" height="18.6" fill="#318672"/>
<rect x="641.85" y="115.2" width="1.3" height="16.5" fill="#318672"/>
<rect x="639.85" y="117.2" width="5.3" height="14.5" fill="#318672"/>
<rect x="648.85" y="115.2" width="1.3" height="10.4" fill="#d25845"/>
<rect x="646.85" y="117.2" width="5.3" height="3.2" fill="#d25845"/>
<rect x="655.85" y="115.2" width="1.3" height="10.4" fill="#318672"/>
<rect x="653.85" y="117.2" width="5.3" height="3.2" fill="#318672"/>
<rect x="662.85" y="104.2" width="1.3" height="15.5" fill="#d25845"/>
<rect x="660.85" y="116.6" width="5.3" height="1.7" fill="#d25845"/>
<rect x="669.85" y="114.1" width="1.3" height="26.5" fill="#d25845"/>
<rect x="667.85" y="117.6" width="5.3" height="23.0" fill="#d25845"/>
<rect x="676.85" y="135.9" width="1.3" height="10.6" fill="#318672"/>
<rect x="674.85" y="137.7" width="5.3" height="2.9" fill="#318672"/>
<rect x="683.85" y="135.9" width="1.3" height="7.8" fill="#d25845"/>
<rect x="681.85" y="138.0" width="5.3" height="1.7" fill="#d25845"/>
<rect x="689.85" y="139.4" width="1.3" height="9.2" fill="#d25845"/>
<rect x="687.85" y="139.4" width="5.3" height="7.4" fill="#d25845"/>
<rect x="696.85" y="147.9" width="1.3" height="10.9" fill="#d25845"/>
<rect x="694.85" y="147.9" width="5.3" height="9.6" fill="#d25845"/>
<rect x="703.85" y="142.0" width="1.3" height="17.5" fill="#318672"/>
<rect x="701.85" y="142.0" width="5.3" height="14.9" fill="#318672"/>
<rect x="710.85" y="133.2" width="1.3" height="13.2" fill="#318672"/>
<rect x="708.85" y="135.8" width="5.3" height="5.9" fill="#318672"/>
<rect x="717.85" y="135.1" width="1.3" height="3.3" fill="#318672"/>
<rect x="715.85" y="136.8" width="5.3" height="1.6" fill="#318672"/>
<rect x="724.85" y="136.8" width="1.3" height="2.4" fill="#d25845"/>
<rect x="722.85" y="136.8" width="5.3" height="1.0" fill="#d25845"/>
<rect x="731.85" y="139.2" width="1.3" height="2.3" fill="#d25845"/>
<rect x="729.85" y="139.2" width="5.3" height="1.0" fill="#d25845"/>
<rect x="737.85" y="133.6" width="1.3" height="7.2" fill="#318672"/>
<rect x="735.85" y="133.6" width="5.3" height="7.2" fill="#318672"/>
<rect x="744.85" y="127.4" width="1.3" height="6.2" fill="#318672"/>
<rect x="742.85" y="132.2" width="5.3" height="1.4" fill="#318672"/>
<rect x="751.85" y="131.6" width="1.3" height="6.6" fill="#318672"/>
<rect x="749.85" y="131.6" width="5.3" height="2.0" fill="#318672"/>
<rect x="758.85" y="130.2" width="1.3" height="3.7" fill="#d25845"/>
<rect x="756.85" y="132.9" width="5.3" height="1.0" fill="#d25845"/>
<rect x="765.85" y="134.3" width="1.3" height="6.1" fill="#d25845"/>
<rect x="763.85" y="134.3" width="5.3" height="3.5" fill="#d25845"/>
<rect x="772.85" y="138.0" width="1.3" height="1.6" fill="#d25845"/>
<rect x="770.85" y="138.0" width="5.3" height="1.0" fill="#d25845"/>
<rect x="779.85" y="135.4" width="1.3" height="3.1" fill="#318672"/>
<rect x="777.85" y="137.3" width="5.3" height="1.2" fill="#318672"/>
<rect x="785.85" y="137.8" width="1.3" height="3.7" fill="#d25845"/>
<rect x="783.85" y="137.8" width="5.3" height="2.6" fill="#d25845"/>
<rect x="792.85" y="140.8" width="1.3" height="1.7" fill="#d25845"/>
<rect x="790.85" y="140.8" width="5.3" height="1.7" fill="#d25845"/>
<rect x="799.85" y="142.5" width="1.3" height="4.2" fill="#d25845"/>
<rect x="797.85" y="142.5" width="5.3" height="4.2" fill="#d25845"/>
<rect x="806.85" y="143.2" width="1.3" height="3.5" fill="#318672"/>
<rect x="804.85" y="144.3" width="5.3" height="2.4" fill="#318672"/>
<rect x="813.85" y="147.7" width="1.3" height="1.8" fill="#d25845"/>
<rect x="811.85" y="147.7" width="5.3" height="1.8" fill="#d25845"/>
<rect x="820.85" y="149.5" width="1.3" height="1.8" fill="#d25845"/>
<rect x="818.85" y="150.1" width="5.3" height="1.0" fill="#f0b9b0"/>
<rect x="827.85" y="151.3" width="1.3" height="11.3" fill="#d25845"/>
<rect x="825.85" y="151.3" width="5.3" height="2.2" fill="#d25845"/>
<rect x="833.85" y="147.4" width="1.3" height="6.3" fill="#318672"/>
<rect x="831.85" y="150.2" width="5.3" height="3.5" fill="#318672"/>
<rect x="840.85" y="144.6" width="1.3" height="5.6" fill="#d25845"/>
<rect x="838.85" y="149.2" width="5.3" height="1.0" fill="#d25845"/>
<rect x="847.85" y="134.3" width="1.3" height="15.9" fill="#318672"/>
<rect x="845.85" y="134.3" width="5.3" height="15.9" fill="#318672"/>
<rect x="854.85" y="132.2" width="1.3" height="5.3" fill="#d25845"/>
<rect x="852.85" y="134.6" width="5.3" height="1.0" fill="#d25845"/>
<rect x="861.85" y="136.1" width="1.3" height="22.2" fill="#d25845"/>
<rect x="859.85" y="136.1" width="5.3" height="16.2" fill="#d25845"/>
<rect x="868.85" y="148.3" width="1.3" height="11.0" fill="#d25845"/>
<rect x="866.85" y="153.7" width="5.3" height="1.0" fill="#d25845"/>
<rect x="875.85" y="145.8" width="1.3" height="15.5" fill="#318672"/>
<rect x="873.85" y="150.1" width="5.3" height="4.5" fill="#318672"/>
<rect x="881.85" y="152.3" width="1.3" height="26.8" fill="#d25845"/>
<rect x="879.85" y="153.0" width="5.3" height="26.1" fill="#d25845"/>
<rect x="888.85" y="174.7" width="1.3" height="9.3" fill="#d25845"/>
<rect x="886.85" y="179.5" width="5.3" height="3.4" fill="#d25845"/>
<rect x="895.85" y="172.8" width="1.3" height="19.7" fill="#318672"/>
<rect x="893.85" y="179.3" width="5.3" height="4.4" fill="#318672"/>
<rect x="902.85" y="179.5" width="1.3" height="14.0" fill="#d25845"/>
<rect x="900.85" y="179.5" width="5.3" height="12.0" fill="#d25845"/>
<rect x="909.85" y="184.5" width="1.3" height="10.1" fill="#318672"/>
<rect x="907.85" y="184.5" width="5.3" height="8.7" fill="#318672"/>
<rect x="916.85" y="186.1" width="1.3" height="10.2" fill="#d25845"/>
<rect x="914.85" y="187.1" width="5.3" height="9.2" fill="#d25845"/>
<rect x="923.85" y="196.7" width="1.3" height="21.8" fill="#d25845"/>
<rect x="921.85" y="196.7" width="5.3" height="8.9" fill="#d25845"/>
<rect x="929.85" y="178.5" width="1.3" height="30.2" fill="#318672"/>
<rect x="927.85" y="188.6" width="5.3" height="17.2" fill="#318672"/>
<rect x="936.85" y="168.2" width="1.3" height="23.3" fill="#318672"/>
<rect x="934.85" y="179.5" width="5.3" height="9.3" fill="#318672"/>
<rect x="943.85" y="175.2" width="1.3" height="5.4" fill="#318672"/>
<rect x="941.85" y="178.4" width="5.3" height="1.0" fill="#318672"/>
<rect x="950.85" y="165.5" width="1.3" height="14.8" fill="#318672"/>
<rect x="948.85" y="170.1" width="5.3" height="7.8" fill="#318672"/>
<rect x="957.85" y="156.5" width="1.3" height="13.6" fill="#318672"/>
<rect x="955.85" y="163.1" width="5.3" height="5.2" fill="#318672"/>
<rect x="964.85" y="159.3" width="1.3" height="8.0" fill="#d25845"/>
<rect x="962.85" y="159.3" width="5.3" height="8.0" fill="#d25845"/>
<rect x="971.85" y="169.4" width="1.3" height="2.1" fill="#d25845"/>
<rect x="977.85" y="167.7" width="1.3" height="4.1" fill="#d25845"/>
<rect x="975.85" y="169.2" width="5.3" height="2.6" fill="#d25845"/>
<rect x="984.85" y="170.4" width="1.3" height="14.1" fill="#d25845"/>
<rect x="982.85" y="172.7" width="5.3" height="6.1" fill="#d25845"/>
<rect x="991.85" y="177.1" width="1.3" height="7.4" fill="#318672"/>
<rect x="989.85" y="178.1" width="5.3" height="1.0" fill="#318672"/>
<rect x="998.85" y="170.1" width="1.3" height="7.6" fill="#318672"/>
<rect x="996.85" y="172.7" width="5.3" height="5.0" fill="#318672"/>
<rect x="1005.85" y="175.0" width="1.3" height="1.6" fill="#d25845"/>
<rect x="1003.85" y="174.9" width="5.3" height="1.0" fill="#f0b9b0"/>
<rect x="1012.85" y="171.3" width="1.3" height="7.3" fill="#318672"/>
<rect x="1010.85" y="173.6" width="5.3" height="1.4" fill="#318672"/>
<rect x="1019.85" y="169.1" width="1.3" height="3.1" fill="#318672"/>
<rect x="1017.85" y="169.8" width="5.3" height="2.4" fill="#318672"/>
<rect x="1025.85" y="167.2" width="1.3" height="10.8" fill="#d25845"/>
<rect x="1023.85" y="170.1" width="5.3" height="7.9" fill="#d25845"/>
<rect x="1032.85" y="170.9" width="1.3" height="6.0" fill="#318672"/>
<rect x="1030.85" y="172.7" width="5.3" height="4.2" fill="#318672"/>
<line x1="-3" y1="106.0" x2="1073.6" y2="106.0" stroke="#000" stroke-width="1.95" stroke-linecap="round"/>
<line x1="-3" y1="222.95" x2="1073.6" y2="222.95" stroke="#000" stroke-width="1.95" stroke-linecap="round"/>
<polyline points="-3.0,91.8 0.0,93.3 15.0,100.8 30.0,107.5 45.0,116.5 60.0,125.5 75.0,133.8 87.0,139.0 105.0,144.3 120.9,149.1 129.0,148.6 142.0,149.5 163.0,150.1 190.0,151.4 198.5,150.3 215.3,149.8 236.3,149.8 251.0,151.1 267.7,153.9 288.7,158.1 310.0,162.0 320.6,165.0 334.1,167.7 341.0,169.2 347.9,170.9 354.7,173.0 361.6,174.8 368.4,176.4 375.3,178.1 382.2,179.9 389.0,181.4 395.9,183.2 402.7,186.2 409.6,187.9 416.5,188.8 423.3,190.1 430.2,190.7 437.0,190.7 443.9,190.9 450.8,191.2 457.6,190.9 464.5,190.4 471.3,190.0 478.2,189.7 485.1,189.5 491.9,189.4 498.8,189.7 505.6,189.6 512.5,189.7 519.4,189.8 526.2,189.3 533.1,189.0 539.9,189.1 546.8,189.0 553.7,189.0 560.5,188.9 567.4,189.1 574.2,189.3 581.1,189.0 588.0,188.7 594.8,188.3 601.7,188.1 608.5,188.1 615.4,187.2 622.3,186.1 629.1,185.0 636.0,183.5 642.8,181.6 649.7,179.7 656.6,177.9 663.4,176.0 670.3,174.6 677.1,173.3 684.0,172.0 690.9,170.7 697.7,169.7 704.6,168.5 711.4,167.2 718.3,165.8 725.2,164.2 732.0,162.6 738.9,160.4 745.7,157.0 752.6,154.7 759.5,153.0 766.3,151.3 773.2,150.4 780.0,149.8 786.9,149.3 793.8,148.4 800.6,147.9 807.5,147.7 814.3,147.5 821.2,147.3 828.1,147.0 834.9,146.5 841.8,146.0 848.6,145.4 855.5,144.7 862.4,144.2 869.2,144.4 876.1,144.4 882.9,145.0 889.8,145.9 896.7,146.5 903.5,147.3 910.4,147.8 917.2,148.4 924.1,149.2 931.0,149.7 937.8,150.2 944.7,150.4 951.5,150.4 958.4,150.4 965.3,150.6 972.1,151.0 979.0,151.8 985.8,153.0 992.7,154.2 999.6,155.3 1006.4,156.5 1013.3,157.1 1020.1,157.8 1027.0,158.5 1033.9,159.0" fill="none" stroke="#1f3cff" stroke-width="1.2" stroke-linejoin="round" opacity="0.55"/>
<polyline points="-3.0,6.0 0.0,7.0 100.0,39.5 195.0,76.0 276.0,106.0 353.5,134.6 380.0,145.0 395.0,151.1 402.9,155.4 410.7,159.0 418.6,161.8 426.4,164.0 434.3,165.6 442.2,167.0 450.0,168.2 457.9,169.1 465.8,169.7 473.6,169.8 485.0,169.6 494.5,169.6 523.0,170.2 570.0,169.2 588.0,169.5 609.0,170.9 658.6,170.2 677.1,170.3 684.0,170.4 690.9,170.7 697.7,171.2 704.6,171.5 711.4,171.6 718.3,171.8 725.2,171.9 732.0,171.9 738.9,171.6 745.7,171.4 752.6,171.2 759.5,170.7 766.3,170.6 773.2,170.4 780.0,170.1 786.9,169.9 793.8,169.6 800.6,169.3 807.5,168.9 814.3,168.6 821.2,168.3 828.1,168.1 834.9,167.8 841.8,167.7 848.6,167.3 855.5,167.1 862.4,166.8 869.2,166.7 876.1,166.6 882.9,166.9 889.8,167.3 896.7,167.6 903.5,168.0 910.4,168.3 917.2,168.7 924.1,168.9 931.0,169.0 937.8,169.1 944.7,169.1 951.5,169.1 958.4,168.7 965.3,168.2 972.1,167.9 979.0,167.5 985.8,167.2 992.7,166.8 999.6,166.5 1006.4,166.1 1013.3,165.7 1020.1,165.4 1027.0,165.1 1033.9,164.7" fill="none" stroke="#e8690b" stroke-width="1.2" stroke-linejoin="round"/>
</g>
<rect x="0" y="172" width="1073" height="1.2" fill="#2d4a73"/>
<rect x="0" y="313" width="1074" height="35" fill="#f7f7f7"/>
<rect x="656" y="313" width="1" height="35" fill="#e1e1e1"/>
<rect x="0" y="312" width="1075" height="1" fill="#ccd3e8"/>
<rect x="0" y="348" width="1075" height="1" fill="#ccd3e8"/>
<rect x="1074" y="312" width="1" height="37" fill="#ccd3e8"/>
<g clip-path="url(#cr)">
<polyline points="-2.0,330.4 4.9,330.2 11.7,327.2 18.6,328.7 25.4,330.4 32.3,330.1 39.2,331.1 46.0,332.9 52.9,334.6 59.7,333.2 66.6,334.5 73.5,335.8 80.3,333.0 87.2,333.4 94.0,333.7 100.9,332.7 107.8,334.4 114.6,335.5 121.5,335.7 128.3,334.2 135.2,334.4 142.1,334.7 148.9,334.2 155.8,331.2 162.6,332.3 169.5,331.2 176.4,332.9 183.2,331.9 190.1,330.9 196.9,328.3 203.8,329.0 210.7,328.8 217.5,329.6 224.4,329.8 231.2,330.9 238.1,334.0 245.0,333.9 251.8,332.3 258.7,333.6 265.5,332.1 272.4,335.9 279.3,336.9 286.1,334.8 293.0,335.1 299.8,335.8 306.7,335.8 313.6,334.6 320.4,335.7 327.3,334.3 334.1,333.2 341.0,332.7 347.9,334.2 354.7,333.4 361.6,332.4 368.4,332.2 375.3,332.9 382.2,335.0 389.0,334.5 395.9,337.6 402.7,341.1 409.6,333.6 416.5,331.2 423.3,331.3 430.2,328.7 437.0,327.0 443.9,327.1 450.8,329.4 457.6,328.0 464.5,327.0 471.3,327.3 478.2,327.6 485.1,328.7 491.9,328.9 498.8,329.2 505.6,328.2 512.5,328.6 519.4,329.4 526.2,326.8 533.1,326.9 539.9,327.0 546.8,326.2 553.7,327.5 560.5,327.4 567.4,329.4 574.2,330.1 581.1,329.6 588.0,329.7 594.8,328.5 601.7,330.4 608.5,330.9 615.4,329.4 622.3,329.3 629.1,328.0 636.0,325.8 642.8,324.4 649.7,325.0 656.6,324.7 663.4,324.9 670.3,328.9 677.1,328.5 684.0,328.9 690.9,330.1 697.7,331.7 704.6,329.4 711.4,328.5 718.3,328.7 725.2,328.9 732.0,329.3 738.9,328.3 745.7,328.0 752.6,327.9 759.5,328.5 766.3,329.4 773.2,329.6 780.0,329.3 786.9,330.1 793.8,330.7 800.6,331.8 807.5,331.1 814.3,332.4 821.2,332.8 828.1,333.4 834.9,332.3 841.8,332.3 848.6,327.7 855.5,328.1 862.4,332.5 869.2,333.0 876.1,331.7 882.9,336.7 889.8,337.1 896.7,336.2 903.5,337.7 910.4,335.9 917.2,337.3 924.1,338.3 931.0,334.4 937.8,332.7 944.7,332.5 951.5,331.0 958.4,329.8 965.3,330.6 972.1,331.3 979.0,331.4 985.8,332.6 992.7,332.4 999.6,331.2 1006.4,331.9 1013.3,331.3 1020.1,330.4 1027.0,332.2 1033.9,331.0" fill="none" stroke="#1f3cff" stroke-width="1" stroke-linejoin="round"/>
<rect x="0" y="314" width="1034" height="9" fill="rgba(0,255,0,0.5)"/>
<rect x="0" y="338" width="1034" height="9.5" fill="rgba(255,0,0,0.5)"/>
<rect x="0" y="323" width="1034" height="1" fill="#3f8f3f"/>
<rect x="0" y="337" width="1034" height="1" fill="#8f3f3f"/>
<line x1="-1.60" y1="323.5" x2="1034" y2="323.5" stroke="#063f06" stroke-width="1" stroke-dasharray="6.06,0.8"/>
<line x1="-1.60" y1="337.5" x2="1034" y2="337.5" stroke="#4f0606" stroke-width="1" stroke-dasharray="6.06,0.8"/>
<rect x="1033" y="314" width="1" height="10" fill="#000"/>
<rect x="1033" y="337" width="1" height="10.5" fill="#000"/>
</g>
<rect x="0" y="358" width="1074" height="38" fill="#f7f7f7"/>
<rect x="656" y="358" width="1" height="38" fill="#e1e1e1"/>
<rect x="0" y="357" width="1075" height="1" fill="#ccd3e8"/>
<rect x="0" y="396" width="1075" height="1" fill="#ccd3e8"/>
<rect x="1074" y="357" width="1" height="40" fill="#ccd3e8"/>
<g clip-path="url(#cf)">
<polyline points="-2.0,363.3 4.9,362.9 11.7,359.5 18.6,363.7 25.4,369.9 32.3,370.1 39.2,375.2 46.0,386.7 52.9,394.4 59.7,386.8 66.6,392.8 73.5,389.6 80.3,382.0 87.2,383.5 94.0,384.6 100.9,382.0 107.8,388.2 114.6,392.4 121.5,393.0 128.3,388.5 135.2,388.3 142.1,388.6 148.9,385.5 155.8,370.2 162.6,377.0 169.5,371.4 176.4,382.3 183.2,374.1 190.1,367.3 196.9,362.6 203.8,365.9 210.7,364.8 217.5,368.2 224.4,370.1 231.2,375.2 238.1,391.8 245.0,391.2 251.8,384.8 258.7,392.1 265.5,385.6 272.4,392.9 279.3,394.2 286.1,388.5 293.0,389.8 299.8,392.9 306.7,393.0 313.6,389.4 320.4,394.5 327.3,390.4 334.1,385.4 341.0,383.7 347.9,390.9 354.7,388.3 361.6,384.7 368.4,378.2 375.3,382.1 382.2,395.5 389.0,392.2 395.9,393.3 402.7,395.5 409.6,376.1 416.5,367.2 423.3,367.5 430.2,362.9 437.0,359.0 443.9,367.4 450.8,372.5 457.6,368.2 464.5,365.4 471.3,366.0 478.2,366.5 485.1,368.7 491.9,369.2 498.8,369.6 505.6,371.2 512.5,373.9 519.4,378.3 526.2,368.6 533.1,369.0 539.9,365.5 546.8,361.9 553.7,369.1 560.5,368.4 567.4,378.3 574.2,382.6 581.1,379.3 588.0,382.3 594.8,376.0 601.7,386.9 608.5,389.8 615.4,381.1 622.3,383.4 629.1,374.5 636.0,359.0 642.8,360.3 649.7,362.3 656.6,360.3 663.4,366.6 670.3,378.6 677.1,377.0 684.0,378.1 690.9,381.9 697.7,387.7 704.6,380.0 711.4,379.0 718.3,380.5 725.2,381.2 732.0,382.7 738.9,378.4 745.7,377.5 752.6,377.1 759.5,374.9 766.3,370.8 773.2,371.8 780.0,370.3 786.9,373.8 793.8,376.2 800.6,395.5 807.5,391.0 814.3,395.5 821.2,395.2 828.1,386.1 834.9,382.6 841.8,381.5 848.6,363.6 855.5,363.1 862.4,383.1 869.2,386.0 876.1,380.5 882.9,395.5 889.8,394.7 896.7,387.5 903.5,394.3 910.4,389.6 917.2,395.5 924.1,390.0 931.0,382.9 937.8,379.0 944.7,378.5 951.5,374.1 958.4,367.7 965.3,369.8 972.1,369.5 979.0,368.0 985.8,372.1 992.7,371.7 999.6,368.5 1006.4,370.4 1013.3,369.1 1020.1,368.3 1027.0,381.4 1033.9,380.1" fill="none" stroke="#1f3cff" stroke-width="1" stroke-linejoin="round"/>
<polyline points="-2.0,362.2 4.9,362.7 11.7,361.9 18.6,362.0 25.4,364.4 32.3,367.9 39.2,371.7 46.0,377.3 52.9,385.4 59.7,389.3 66.6,391.3 73.5,389.8 80.3,388.2 87.2,385.0 94.0,383.4 100.9,383.4 107.8,384.9 114.6,387.5 121.5,391.2 128.3,391.3 135.2,389.9 142.1,388.5 148.9,387.5 155.8,381.4 162.6,377.6 169.5,372.9 176.4,376.9 183.2,375.9 190.1,374.6 196.9,368.0 203.8,365.3 210.7,364.4 217.5,366.3 224.4,367.7 231.2,371.2 238.1,379.0 245.0,386.1 251.8,389.3 258.7,389.4 265.5,387.5 272.4,390.2 279.3,390.9 286.1,391.9 293.0,390.8 299.8,390.4 306.7,391.9 313.6,391.8 320.4,392.3 327.3,391.4 334.1,390.1 341.0,386.5 347.9,386.6 354.7,387.6 361.6,388.0 368.4,383.7 375.3,381.7 382.2,385.3 389.0,390.0 395.9,393.7 402.7,393.7 409.6,388.3 416.5,379.6 423.3,370.3 430.2,365.9 437.0,363.1 443.9,363.1 450.8,366.3 457.6,369.4 464.5,368.7 471.3,366.6 478.2,366.0 485.1,367.1 491.9,368.1 498.8,369.2 505.6,370.0 512.5,371.6 519.4,374.5 526.2,373.6 533.1,372.0 539.9,367.7 546.8,365.5 553.7,365.5 560.5,366.5 567.4,371.9 574.2,376.4 581.1,380.0 588.0,381.4 594.8,379.2 601.7,381.8 608.5,384.3 615.4,386.0 622.3,384.8 629.1,379.7 636.0,372.3 642.8,364.6 649.7,360.5 656.6,361.0 663.4,363.1 670.3,368.5 677.1,374.1 684.0,377.9 690.9,379.0 697.7,382.6 704.6,383.2 711.4,382.2 718.3,379.8 725.2,380.2 732.0,381.5 738.9,380.8 745.7,379.5 752.6,377.7 759.5,376.5 766.3,374.3 773.2,372.5 780.0,371.0 786.9,372.0 793.8,373.4 800.6,381.8 807.5,387.5 814.3,394.0 821.2,393.9 828.1,392.3 834.9,388.0 841.8,383.4 848.6,375.9 855.5,369.4 862.4,369.9 869.2,377.4 876.1,383.2 882.9,387.3 889.8,390.2 896.7,392.6 903.5,392.2 910.4,390.5 917.2,393.1 924.1,391.7 931.0,389.5 937.8,384.0 944.7,380.1 951.5,377.2 958.4,373.4 965.3,370.5 972.1,369.0 979.0,369.1 985.8,369.9 992.7,370.6 999.6,370.8 1006.4,370.2 1013.3,369.3 1020.1,369.3 1027.0,372.9 1033.9,376.6" fill="none" stroke="#ff6a00" stroke-width="1" stroke-linejoin="round"/>
<rect x="0" y="359" width="1034" height="7" fill="rgba(0,255,0,0.5)"/>
<rect x="0" y="388" width="1034" height="8" fill="rgba(255,0,0,0.5)"/>
<rect x="0" y="366" width="1034" height="1" fill="#3f8f3f"/>
<rect x="0" y="387" width="1034" height="1" fill="#8f3f3f"/>
<line x1="-1.60" y1="366.5" x2="1034" y2="366.5" stroke="#063f06" stroke-width="1" stroke-dasharray="6.06,0.8"/>
<line x1="-1.60" y1="387.5" x2="1034" y2="387.5" stroke="#4f0606" stroke-width="1" stroke-dasharray="6.06,0.8"/>
<rect x="1033" y="359" width="1" height="8" fill="#000"/>
<rect x="1033" y="387" width="1" height="9" fill="#000"/>
</g>
<rect x="526" y="306" width="20" height="1" fill="#6e6868"/>
<rect x="526" y="308" width="20" height="1" fill="#6e6868"/>
<rect x="526" y="310" width="20" height="1" fill="#6e6868"/>
<rect x="526" y="351" width="20" height="1" fill="#6e6868"/>
<rect x="526" y="353" width="20" height="1" fill="#6e6868"/>
<rect x="526" y="355" width="20" height="1" fill="#6e6868"/>
<rect x="1075" y="33" width="5" height="1" fill="#aaa"/>
<text x="1082" y="37" font-size="11" fill="#5c5c5c">5.0000</text>
<rect x="1075" y="70.7" width="5" height="1" fill="#aaa"/>
<text x="1082" y="75" font-size="11" fill="#5c5c5c">4.9000</text>
<rect x="1075" y="108" width="5" height="1" fill="#aaa"/>
<text x="1082" y="113" font-size="11" fill="#5c5c5c">4.8000</text>
<rect x="1075" y="146" width="5" height="1" fill="#aaa"/>
<text x="1082" y="151" font-size="11" fill="#5c5c5c">4.7000</text>
<rect x="1075" y="184" width="5" height="1" fill="#aaa"/>
<text x="1082" y="189" font-size="11" fill="#5c5c5c">4.6000</text>
<rect x="1075" y="222" width="5" height="1" fill="#aaa"/>
<text x="1082" y="226" font-size="11" fill="#5c5c5c">4.5000</text>
<rect x="1075" y="260" width="5" height="1" fill="#aaa"/>
<text x="1082" y="264" font-size="11" fill="#5c5c5c">4.4000</text>
<rect x="1075" y="298" width="5" height="1" fill="#aaa"/>
<text x="1082" y="302" font-size="11" fill="#5c5c5c">4.3000</text>
<rect x="1075" y="346.1" width="5" height="1.6" fill="#b5b5b5"/>
<text x="1082" y="350.5" font-size="11" fill="#5c5c5c">0.0000</text>
<rect x="1075" y="394.4" width="5" height="1.6" fill="#b5b5b5"/>
<text x="1082" y="398.5" font-size="11" fill="#5c5c5c">0.0000</text>
<path d="M1071.4 172.6 L1077.8 166 L1132 166 L1132 179.7 L1077.8 179.7 Z" fill="#2d4a73"/>
<text x="1082" y="177" font-size="11" font-weight="bold" fill="#fff">4.631300</text>
<text x="-2" y="413" font-size="11" fill="#666">Thu</text>
<rect x="66" y="397" width="1" height="2" fill="#777"/>
<text x="66.6" y="413" font-size="11" fill="#666" text-anchor="middle">02:30</text>
<rect x="100" y="397" width="1" height="2" fill="#777"/>
<text x="100.9" y="413" font-size="11" fill="#666" text-anchor="middle">03:45</text>
<rect x="135" y="397" width="1" height="2" fill="#777"/>
<text x="135.2" y="413" font-size="11" fill="#666" text-anchor="middle">05:00</text>
<rect x="169" y="397" width="1" height="2" fill="#777"/>
<text x="169.5" y="413" font-size="11" fill="#666" text-anchor="middle">06:15</text>
<rect x="203" y="397" width="1" height="2" fill="#777"/>
<text x="203.8" y="413" font-size="11" fill="#666" text-anchor="middle">07:30</text>
<rect x="238" y="397" width="1" height="2" fill="#777"/>
<text x="238.1" y="413" font-size="11" fill="#666" text-anchor="middle">08:45</text>
<rect x="272" y="397" width="1" height="2" fill="#777"/>
<text x="272.4" y="413" font-size="11" fill="#666" text-anchor="middle">10:00</text>
<rect x="306" y="397" width="1" height="2" fill="#777"/>
<text x="306.7" y="413" font-size="11" fill="#666" text-anchor="middle">11:15</text>
<rect x="340" y="397" width="1" height="2" fill="#777"/>
<text x="341.0" y="413" font-size="11" fill="#666" text-anchor="middle">12:30</text>
<rect x="375" y="397" width="1" height="2" fill="#777"/>
<text x="375.3" y="413" font-size="11" fill="#666" text-anchor="middle">13:45</text>
<rect x="409" y="397" width="1" height="2" fill="#777"/>
<text x="409.6" y="413" font-size="11" fill="#666" text-anchor="middle">15:00</text>
<rect x="443" y="397" width="1" height="2" fill="#777"/>
<text x="443.9" y="413" font-size="11" fill="#666" text-anchor="middle">16:15</text>
<rect x="478" y="397" width="1" height="2" fill="#777"/>
<text x="478.2" y="413" font-size="11" fill="#666" text-anchor="middle">17:30</text>
<rect x="512" y="397" width="1" height="2" fill="#777"/>
<text x="512.5" y="413" font-size="11" fill="#666" text-anchor="middle">18:45</text>
<rect x="546" y="397" width="1" height="2" fill="#777"/>
<text x="546.8" y="413" font-size="11" fill="#666" text-anchor="middle">20:00</text>
<rect x="581" y="397" width="1" height="2" fill="#777"/>
<text x="581.1" y="413" font-size="11" fill="#666" text-anchor="middle">21:15</text>
<rect x="615" y="397" width="1" height="2" fill="#777"/>
<text x="615.4" y="413" font-size="11" fill="#666" text-anchor="middle">22:30</text>
<rect x="656" y="397" width="1" height="2" fill="#777"/>
<text x="656.6" y="413" font-size="11" fill="#666" text-anchor="middle">Fri</text>
<rect x="690" y="397" width="1" height="2" fill="#777"/>
<text x="690.9" y="413" font-size="11" fill="#666" text-anchor="middle">01:15</text>
<rect x="725" y="397" width="1" height="2" fill="#777"/>
<text x="725.2" y="413" font-size="11" fill="#666" text-anchor="middle">02:30</text>
<rect x="759" y="397" width="1" height="2" fill="#777"/>
<text x="759.5" y="413" font-size="11" fill="#666" text-anchor="middle">03:45</text>
<rect x="793" y="397" width="1" height="2" fill="#777"/>
<text x="793.8" y="413" font-size="11" fill="#666" text-anchor="middle">05:00</text>
<rect x="828" y="397" width="1" height="2" fill="#777"/>
<text x="828.1" y="413" font-size="11" fill="#666" text-anchor="middle">06:15</text>
<rect x="862" y="397" width="1" height="2" fill="#777"/>
<text x="862.4" y="413" font-size="11" fill="#666" text-anchor="middle">07:30</text>
<rect x="896" y="397" width="1" height="2" fill="#777"/>
<text x="896.7" y="413" font-size="11" fill="#666" text-anchor="middle">08:45</text>
<rect x="930" y="397" width="1" height="2" fill="#777"/>
<text x="931.0" y="413" font-size="11" fill="#666" text-anchor="middle">10:00</text>
<rect x="965" y="397" width="1" height="2" fill="#777"/>
<text x="965.3" y="413" font-size="11" fill="#666" text-anchor="middle">11:15</text>
<rect x="999" y="397" width="1" height="2" fill="#777"/>
<text x="999.6" y="413" font-size="11" fill="#666" text-anchor="middle">12:30</text>
<rect x="1033" y="397" width="1" height="2" fill="#777"/>
<text x="1033.9" y="413" font-size="11" fill="#666" text-anchor="middle">13:45</text>
<rect x="3" y="10" width="66" height="22" fill="rgba(0,0,0,0.6)"/>
<rect x="3" y="10" width="3" height="22" fill="#2f8872"/>
<text x="12" y="25" font-size="11" font-weight="bold" fill="#fff">EOS/USD</text>
<rect x="3" y="37" width="71" height="22" fill="rgba(0,0,0,0.6)"/>
<rect x="3" y="37" width="3" height="22" fill="#0a28ff"/>
<text x="12" y="52" font-size="11" font-weight="bold" fill="#fff">SMA (50,0)</text>
<rect x="3" y="64" width="77" height="22" fill="rgba(0,0,0,0.6)"/>
<rect x="3" y="64" width="3" height="22" fill="#e8590b"/>
<text x="12" y="79" font-size="11" font-weight="bold" fill="#fff">SMA (100,0)</text>
<rect x="3" y="317" width="97" height="22" fill="rgba(0,0,0,0.6)"/>
<rect x="3" y="317" width="3" height="22" fill="#0a28ff"/>
<text x="12" y="332" font-size="11" font-weight="bold" fill="#fff">RSI (14,70,30,1)</text>
<rect x="3" y="362" width="110" height="22" fill="rgba(0,0,0,0.6)"/>
<rect x="3" y="362" width="3" height="22" fill="#0a28ff"/>
<text x="12" y="377" font-size="11" font-weight="bold" fill="#fff">FSOO (14,3,80,20)</text>
<rect x="70" y="10" width="22" height="22" fill="rgba(0,0,0,0.6)"/>
<rect x="93" y="10" width="22" height="22" fill="rgba(0,0,0,0.6)"/>
<path d="M87.50 21.90 A5.5 5.5 0 1 1 82.00 16.40" fill="none" stroke="#fff" stroke-width="1.2"/>
<path d="M81.3 13.6 L84.6 16.4 L81.3 19.2 Z" fill="#fff"/>
<path d="M100 16.5 H110.6 V26.5 H98.5 V21" fill="none" stroke="#fff" stroke-width="1.1"/>
<path d="M97 16.5 L100.3 14 L100.3 19 Z" fill="#fff"/>
<rect x="101" y="21" width="1" height="3" fill="#fff"/>
<rect x="104" y="19.7" width="1" height="4.3" fill="#fff"/>
<rect x="107" y="18.7" width="1" height="5.3" fill="#fff"/>
</svg></body></html>
